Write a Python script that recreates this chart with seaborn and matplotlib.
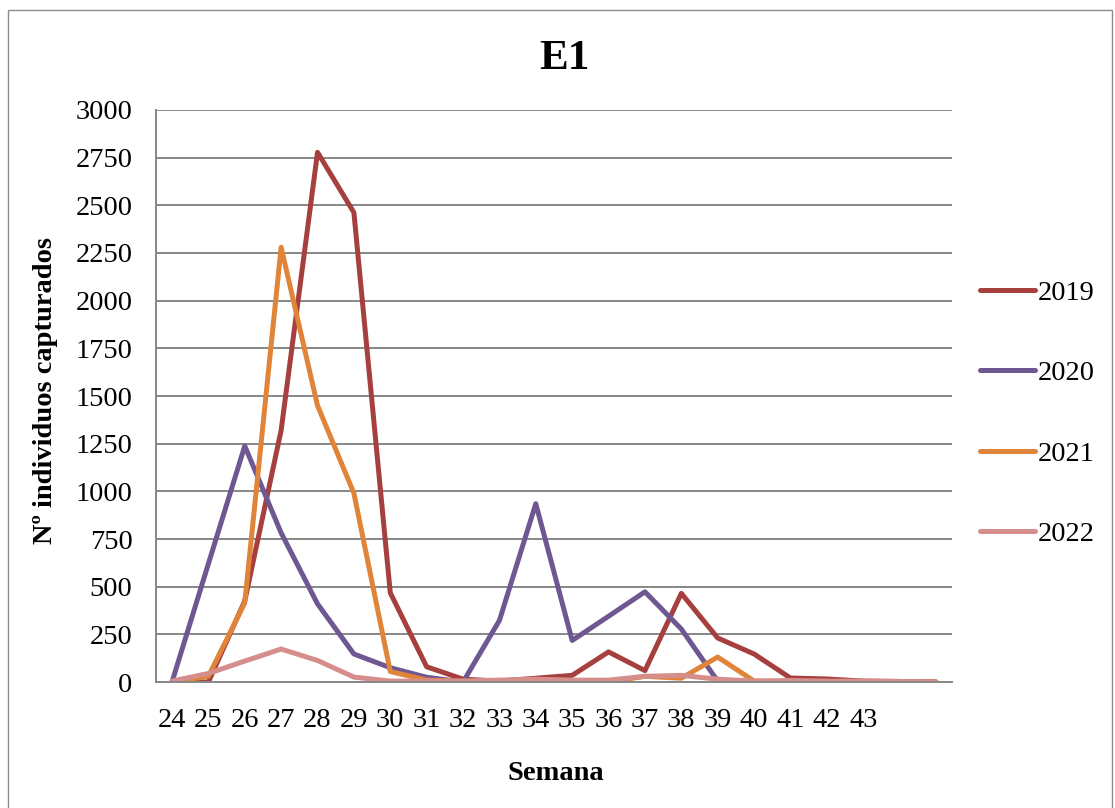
import matplotlib
matplotlib.use("Agg")
import matplotlib.pyplot as plt
import seaborn as sns
import pandas as pd
from matplotlib.patches import Rectangle
from matplotlib.lines import Line2D

# ---- data ----
week_labels = [str(w) for w in range(24, 44)]  # 24..43 shown on axis
years = ["2019", "2020", "2021", "2022"]
v2019 = [0, 0, 425, 1320, 2778, 2462, 468, 80, 15, 5, 20, 35, 158, 60, 465, 231, 147, 21, 16, 5, 3, 0]
v2020 = [0, 620, 1238, 782, 410, 147, 75, 25, 0, 323, 935, 218, 345, 473, 278, 5, 0, 0, 0, 0, 0, 0]
v2021 = [0, 30, 415, 2280, 1450, 990, 55, 10, 5, 5, 0, 0, 0, 30, 20, 131, 5, 3, 2, 2, 1, 0]
v2022 = [5, 45, 110, 173, 113, 26, 5, 5, 5, 10, 15, 10, 10, 30, 35, 15, 5, 8, 5, 5, 3, 0]
colors = ["#A5403F", "#6F5792", "#E0843A", "#D58E8C"]

series = [v2019, v2020, v2021, v2022]
rows = []
for y, vals in zip(years, series):
    for i, v in enumerate(vals):
        rows.append({"pos": i, "value": v, "year": y})
df = pd.DataFrame(rows)

sns.set_theme(style="white")
plt.rcParams["font.family"] = ["Liberation Serif", "DejaVu Serif"]
plt.rcParams["text.color"] = "black"

FS = 20.5
LW = 3.6

fig = plt.figure(figsize=(11.15, 8.08), dpi=100)
ax = fig.add_axes([0.1399, 0.1559, 0.7139, 0.7080])

sns.lineplot(data=df, x="pos", y="value", hue="year", hue_order=years,
             palette=dict(zip(years, colors)), linewidth=LW, sort=False,
             estimator=None, ax=ax, legend=False)
for ln in ax.get_lines():
    ln.set_solid_joinstyle("round")
    ln.set_solid_capstyle("round")

n = len(v2019)
ax.set_xlim(-0.44, n - 1 + 0.44)
ax.set_ylim(0, 3000)
ax.set_yticks(range(0, 3001, 250))
ax.set_xticks(range(n))
ax.set_xticklabels(week_labels + [""] * (n - len(week_labels)))
ax.tick_params(axis="both", length=0, labelsize=FS, colors="black")
ax.tick_params(axis="y", pad=17)
ax.tick_params(axis="x", pad=19)

ax.yaxis.grid(True, color="#878787", linewidth=1.4)
ax.xaxis.grid(False)
ax.set_axisbelow(True)
for s in ["top", "right"]:
    ax.spines[s].set_visible(False)
for s in ["left", "bottom"]:
    ax.spines[s].set_color("#878787")
    ax.spines[s].set_linewidth(1.4)

ax.set_xlabel("")
ax.set_ylabel("")
fig.text(556 / 1115, 1 - 773 / 808, "Semana", fontsize=FS, fontweight="bold",
         ha="center", va="center", color="black")
fig.text(46 / 1115, 1 - 390 / 808, "Nº individuos capturados", fontsize=FS,
         fontweight="bold", rotation=90, ha="center", va="center", color="black")
fig.text(564 / 1115, 0.927, "E1", fontsize=31, fontweight="bold", ha="center",
         va="center", color="black")

handles = [Line2D([], [], color=c, linewidth=LW, solid_capstyle="round") for c in colors]
fig.legend(handles, years, loc="upper left", bbox_to_anchor=(0.8685, 0.668),
           frameon=False, fontsize=FS, handlelength=1.95, handletextpad=0.1,
           labelspacing=1.92, borderaxespad=0)

fig.patches.append(Rectangle((8 / 1115, -0.01), (1112 - 8) / 1115, 1 - 10 / 808 + 0.01,
                             transform=fig.transFigure, fill=False,
                             edgecolor="#8C8C8C", linewidth=1.0))

fig.savefig("out.png", dpi=100, facecolor="white")
